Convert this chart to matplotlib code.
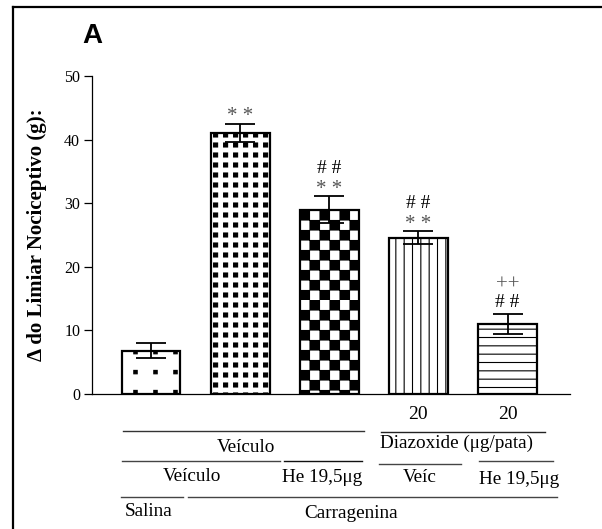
import numpy as np
import matplotlib
matplotlib.use("Agg")
import matplotlib.pyplot as plt
import matplotlib.hatch as mhatch
from matplotlib.path import Path
from matplotlib.lines import Line2D
from matplotlib.transforms import blended_transform_factory

# data
groups = ["Salina", "Car + Veículo", "Car + He 19,5μg", "Car + Diaz 20 + Veíc", "Car + Diaz 20 + He 19,5μg"]
means = [6.8, 41.1, 29.0, 24.6, 11.0]
sems = [1.2, 1.4, 2.1, 1.0, 1.6]
sig_star = ["", "**", "**", "**", ""]
sig_hash = ["", "", "# #", "# #", "# #"]
sig_plus = ["", "", "", "", "++"]
diazoxide_dose = ["", "", "", "20", "20"]

# fill styles (custom square hatches: '.' sparse, 'o' dense, 'x' checkerboard)
hatches = [".", "o", "x", "||", "--"]


class SquareHatch(mhatch.HatchPatternBase):
    # filled squares laid on a grid inside the 1-inch hatch tile
    def __init__(self, hatch, density):
        self.squares = []
        if "." in hatch:
            n, s, ox, oy = 5, 0.034, 0.138, 0.062
            self.squares += [((i / n + ox) % 1, (j / n + oy) % 1, s)
                             for i in range(n) for j in range(n)]
        if "o" in hatch:
            n, s, ox, oy = 10, 0.04, 0.036, 0.03
            self.squares += [(i / n + ox, j / n + oy, s) for i in range(n) for j in range(n)]
        if "x" in hatch:
            n, s = 10, 0.095
            self.squares += [(i / n, j / n, s) for i in range(n) for j in range(n)
                             if (i + j) % 2 == 0]
        self.num_vertices = len(self.squares) * 5

    def set_vertices_and_codes(self, vertices, codes):
        for k, (x0, y0, s) in enumerate(self.squares):
            vertices[5*k:5*k+5] = [[x0, y0], [x0+s, y0], [x0+s, y0+s], [x0, y0+s], [x0, y0]]
            codes[5*k] = Path.MOVETO
            codes[5*k+1:5*k+4] = Path.LINETO
            codes[5*k+4] = Path.CLOSEPOLY


mhatch._hatch_types[:] = [mhatch.HorizontalHatch, mhatch.VerticalHatch, SquareHatch]

plt.rcParams["font.family"] = ["Liberation Serif", "DejaVu Serif"]
plt.rcParams["hatch.linewidth"] = 0.8

fig = plt.figure(figsize=(6.02, 5.29), dpi=100)
ax = fig.add_axes([0.1528, 0.2552, 0.794, 0.6011])

x = np.arange(len(means))
bars = ax.bar(x, means, width=0.66, color="white", edgecolor="black",
              linewidth=1.6, zorder=2)
for b, h in zip(bars, hatches):
    b.set_hatch(h)
ax.errorbar(x, means, yerr=sems, fmt="none", ecolor="black", elinewidth=1.3,
            capsize=10.5, capthick=1.3, zorder=3)

# significance marks stacked above the error bars
for i in x:
    marks = [m for m in (sig_star[i], sig_hash[i], sig_plus[i]) if m]
    for k, m in enumerate(marks):
        if m == "**":
            ax.annotate("* *", (i, means[i] + sems[i]), xytext=(0, 5 + 12 * k),
                        textcoords="offset points", ha="center", va="center",
                        fontsize=15, color="#555555")
        elif m == "++":
            ax.annotate(m, (i, means[i] + sems[i]), xytext=(0, 8.5 + 12.5 * k),
                        textcoords="offset points", ha="center", va="center",
                        fontsize=15, color="#555555")
        else:
            ax.annotate(m, (i, means[i] + sems[i]), xytext=(0, 8 + 12 * k),
                        textcoords="offset points", ha="center", va="center",
                        fontsize=14, color="black")

ax.set_xlim(-0.662, 4.70)
ax.set_ylim(0, 50)
ax.set_yticks([0, 10, 20, 30, 40, 50])
ax.set_xticks([])
ax.tick_params(axis="y", direction="out", length=5.5, width=0.9, labelsize=11.5, pad=3)
for s in ["top", "right"]:
    ax.spines[s].set_visible(False)
ax.spines["left"].set_linewidth(0.9)
ax.spines["bottom"].set_linewidth(0.9)

ax.set_ylabel("Δ do Limiar Nociceptivo (g):", fontsize=15, fontweight="bold")
ax.yaxis.set_label_coords(-0.094, 0.5)

# grouping labels under the axis
tr = blended_transform_factory(ax.transData, ax.transAxes)
fs = 13.8
for i, d in enumerate(diazoxide_dose):
    if d:
        ax.text(i, -0.066, d, transform=tr, ha="center", va="center", fontsize=14)

lines = [(-0.314, 2.39, -0.116, "#333333"), (2.58, 4.42, -0.119, "#222222"),
         (-0.325, 1.45, -0.211, "#444444"), (1.49, 2.37, -0.211, "#111111"),
         (2.56, 3.48, -0.220, "#444444"), (3.68, 4.51, -0.211, "#444444"),
         (-0.337, 0.36, -0.324, "#444444"), (0.415, 4.56, -0.324, "#444444")]
for x0, x1, y0, c in lines:
    ax.add_line(Line2D([x0, x1], [y0, y0], transform=tr, color=c, lw=1.0, clip_on=False))

labels = [(1.07, -0.167, "Veículo", "center"), (3.43, -0.154, "Diazoxide (μg/pata)", "center"),
          (0.46, -0.261, "Veículo", "center"), (1.92, -0.264, "He 19,5μg", "center"),
          (3.02, -0.264, "Veíc", "center"), (4.13, -0.270, "He 19,5μg", "center"),
          (-0.30, -0.368, "Salina", "left"), (2.24, -0.377, "Carragenina", "center")]
for lx, ly, t, ha in labels:
    ax.text(lx, ly, t, transform=tr, ha=ha, va="center", fontsize=fs)

# panel letter and outer frame
fig.text(82 / 602, 1 - 43 / 529, "A", fontsize=20, fontweight="bold",
         family="Liberation Sans", ha="left", va="baseline")
fig.add_artist(Line2D([0.0216, 0.0216], [0, 0.9862], transform=fig.transFigure,
                      color="black", lw=1.6))
fig.add_artist(Line2D([0.0216, 1.0], [0.9862, 0.9862], transform=fig.transFigure,
                      color="black", lw=1.6))

fig.savefig("out.png", dpi=100)
